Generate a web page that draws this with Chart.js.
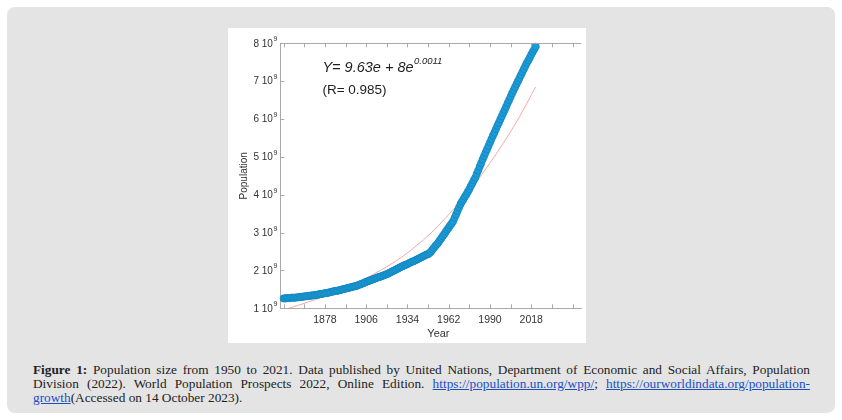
<!DOCTYPE html>
<html>
<head>
<meta charset="utf-8">
<script src="https://cdn.jsdelivr.net/npm/chart.js@4.4.0/dist/chart.umd.min.js"></script>
<style>
  body { margin: 0; width: 842px; height: 420px; background: #fff; position: relative; overflow: hidden; }
  .panel { position: absolute; left: 7px; top: 7px; width: 828px; height: 406px; background: #e4e4e4; border-radius: 8px; }
  .box { position: absolute; left: 228px; top: 28px; width: 358px; height: 315px; background: #fff; }
  .cap { position: absolute; left: 33px; top: 363px; width: 777px; font-family: "Liberation Serif", serif; font-size: 13.3px; line-height: 13.8px; color: #222; }
  .cap div { white-space: nowrap; }
  .cap .j { text-align: justify; text-align-last: justify; }
  .cap a { color: #1a4fc4; text-decoration: underline; }
</style>
</head>
<body>
<div class="panel"></div>
<div class="box"><canvas id="myChart" width="358" height="315"></canvas></div>
<div class="cap">
  <div class="j"><b>Figure 1:</b> Population size from 1950 to 2021. Data published by United Nations, Department of Economic and Social Affairs, Population</div>
  <div class="j">Division (2022). World Population Prospects 2022, Online Edition. <a>https://population.un.org/wpp/</a>; <a>https://ourworldindata.org/population-</a></div>
  <div><a>growth</a>(Accessed on 14 October 2023).</div>
</div>
<script>
// population in billions, one value per year from 1850
const firstYear = 1850;
const popValues = [
  1.26, 1.26, 1.27, 1.27, 1.27, 1.28, 1.28, 1.28, 1.28, 1.29,
  1.29, 1.30, 1.30, 1.31, 1.31, 1.32, 1.32, 1.33, 1.33, 1.34,
  1.34, 1.35, 1.35, 1.36, 1.37, 1.38, 1.38, 1.39, 1.40, 1.40,
  1.41, 1.42, 1.43, 1.44, 1.45, 1.46, 1.46, 1.47, 1.48, 1.49,
  1.50, 1.51, 1.52, 1.53, 1.54, 1.55, 1.56, 1.57, 1.58, 1.59,
  1.60, 1.62, 1.63, 1.65, 1.66, 1.68, 1.70, 1.71, 1.73, 1.74,
  1.76, 1.77, 1.79, 1.80, 1.82, 1.83, 1.84, 1.86, 1.87, 1.89,
  1.90, 1.92, 1.94, 1.96, 1.98, 2.00, 2.02, 2.04, 2.06, 2.08,
  2.10, 2.12, 2.14, 2.15, 2.17, 2.19, 2.21, 2.23, 2.24, 2.26,
  2.28, 2.30, 2.32, 2.34, 2.36, 2.38, 2.40, 2.42, 2.43, 2.46,
  2.50, 2.55, 2.60, 2.65, 2.69, 2.74, 2.80, 2.85, 2.91, 2.96,
  3.02, 3.08, 3.13, 3.19, 3.24, 3.30, 3.39, 3.48, 3.57, 3.66,
  3.75, 3.82, 3.88, 3.95, 4.01, 4.08, 4.15, 4.23, 4.30, 4.38,
  4.45, 4.55, 4.64, 4.74, 4.83, 4.93, 5.02, 5.11, 5.20, 5.29,
  5.38, 5.47, 5.56, 5.64, 5.73, 5.82, 5.90, 5.99, 6.07, 6.16,
  6.24, 6.33, 6.42, 6.50, 6.59, 6.68, 6.76, 6.84, 6.92, 7.00,
  7.08, 7.16, 7.24, 7.32, 7.40, 7.48, 7.55, 7.62, 7.70, 7.77,
  7.84, 7.91
];

// fitted curve (pink line)
const fitYears  = [1850, 1860, 1870, 1880, 1890, 1900, 1910, 1920, 1930, 1940, 1950, 1960, 1970, 1980, 1990, 2000, 2010, 2021];
const fitValues = [0.96, 1.08, 1.21, 1.35, 1.51, 1.68, 1.88, 2.10, 2.35, 2.65, 2.99, 3.39, 3.83, 4.30, 4.84, 5.42, 6.06, 6.85];

const xTicks  = [1850, 1864, 1878, 1892, 1906, 1920, 1934, 1948, 1962, 1976, 1990, 2004, 2018, 2032, 2046];
const xLabels = [1878, 1906, 1934, 1962, 1990, 2018];
const yTicks  = [1, 2, 3, 4, 5, 6, 7, 8];

const axisColor = '#a9a9a9';
const textColor = '#333';
const sans = '"Liberation Sans", Arial, sans-serif';

let popPoints = popValues.map((v, i) => ({ x: firstYear + i, y: v }));
let fitPoints = fitValues.map((v, i) => ({ x: fitYears[i], y: v }));

// ticks inside the frame, top border, labels with superscript, equation
const frameText = {
  id: 'frameText',
  afterDraw(chart) {
    const { ctx, chartArea: a, scales: { x, y } } = chart;
    ctx.save();
    ctx.strokeStyle = axisColor;
    ctx.lineWidth = 1;
    ctx.beginPath();
    ctx.moveTo(a.left, Math.round(a.top) + 0.5);
    ctx.lineTo(a.right, Math.round(a.top) + 0.5);
    xTicks.forEach(v => {
      const px = Math.round(x.getPixelForValue(v)) + 0.5;
      ctx.moveTo(px, a.bottom);
      ctx.lineTo(px, a.bottom - 4);
      ctx.moveTo(px, a.top);
      ctx.lineTo(px, a.top + 4);
    });
    yTicks.forEach(v => {
      const py = Math.round(y.getPixelForValue(v)) + 0.5;
      ctx.moveTo(a.left, py);
      ctx.lineTo(a.left + 4, py);
    });
    ctx.stroke();

    // y labels "n 10^9"
    ctx.fillStyle = textColor;
    ctx.textAlign = 'right';
    ctx.textBaseline = 'middle';
    yTicks.forEach(v => {
      const py = y.getPixelForValue(v);
      ctx.font = '7px ' + sans;
      ctx.fillText('9', a.left - 3, py - 4);
      const w = ctx.measureText('9').width;
      ctx.font = '10px ' + sans;
      ctx.fillText(v + ' 10', a.left - 3.5 - w, py + 0.5);
    });

    // axis titles
    ctx.textAlign = 'center';
    ctx.font = '11px ' + sans;
    ctx.fillText('Year', x.getPixelForValue(1955), a.bottom + 26);
    ctx.save();
    ctx.translate(16, (a.top + a.bottom) / 2);
    ctx.rotate(-Math.PI / 2);
    ctx.font = '10px ' + sans;
    ctx.fillText('Population', 0, 0);
    ctx.restore();

    // equation
    ctx.fillStyle = '#1e1e1e';
    ctx.textAlign = 'left';
    const ex = x.getPixelForValue(1876.3);
    const ey = y.getPixelForValue(7.34);
    ctx.font = 'italic 14.5px ' + sans;
    const main = 'Y= 9.63e + 8e';
    ctx.fillText(main, ex, ey);
    const mw = ctx.measureText(main).width;
    ctx.font = 'italic 9.5px ' + sans;
    ctx.fillText('0.0011', ex + mw + 0.5, ey - 6.5);
    ctx.font = '13.5px ' + sans;
    ctx.fillText('(R= 0.985)', ex, y.getPixelForValue(6.77));
    ctx.restore();
  }
};

let myChart = document.getElementById('myChart').getContext('2d');

let popChart = new Chart(myChart, {
  type: 'scatter',
  data: {
    datasets: [{
      label: 'Population',
      data: popPoints,
      showLine: false,
      pointRadius: 3.6,
      pointBackgroundColor: '#1c9bd7',
      pointBorderColor: '#1185bf',
      pointBorderWidth: 0.8,
      clip: false
    }, {
      label: 'Fit',
      data: fitPoints,
      showLine: true,
      pointRadius: 0,
      borderColor: 'rgba(240, 140, 140, 0.75)',
      borderWidth: 1,
      cubicInterpolationMode: 'monotone'
    }]
  },
  options: {
    responsive: false,
    animation: false,
    devicePixelRatio: 1,
    layout: { padding: { top: 15.3, right: 0, left: 0, bottom: 0 } },
    plugins: {
      legend: { display: false },
      tooltip: { enabled: false }
    },
    scales: {
      x: {
        type: 'linear',
        min: 1847.7,
        max: 2051.9,
        afterBuildTicks: s => { s.ticks = xTicks.map(v => ({ value: v })); },
        afterFit: s => { s.height = 34.7; },
        grid: { display: false, drawTicks: false },
        border: { color: axisColor },
        ticks: {
          autoSkip: false,
          maxRotation: 0,
          padding: 6,
          color: textColor,
          font: { family: sans, size: 10.5 },
          callback: v => xLabels.includes(v) ? String(v) : ''
        }
      },
      y: {
        min: 1,
        max: 8,
        afterBuildTicks: s => { s.ticks = yTicks.map(v => ({ value: v })); },
        afterFit: s => { s.width = 52.3; },
        grid: { display: false, drawTicks: false },
        border: { color: axisColor },
        ticks: { callback: () => '' }
      }
    }
  },
  plugins: [frameText]
});
</script>
</body>
</html>
